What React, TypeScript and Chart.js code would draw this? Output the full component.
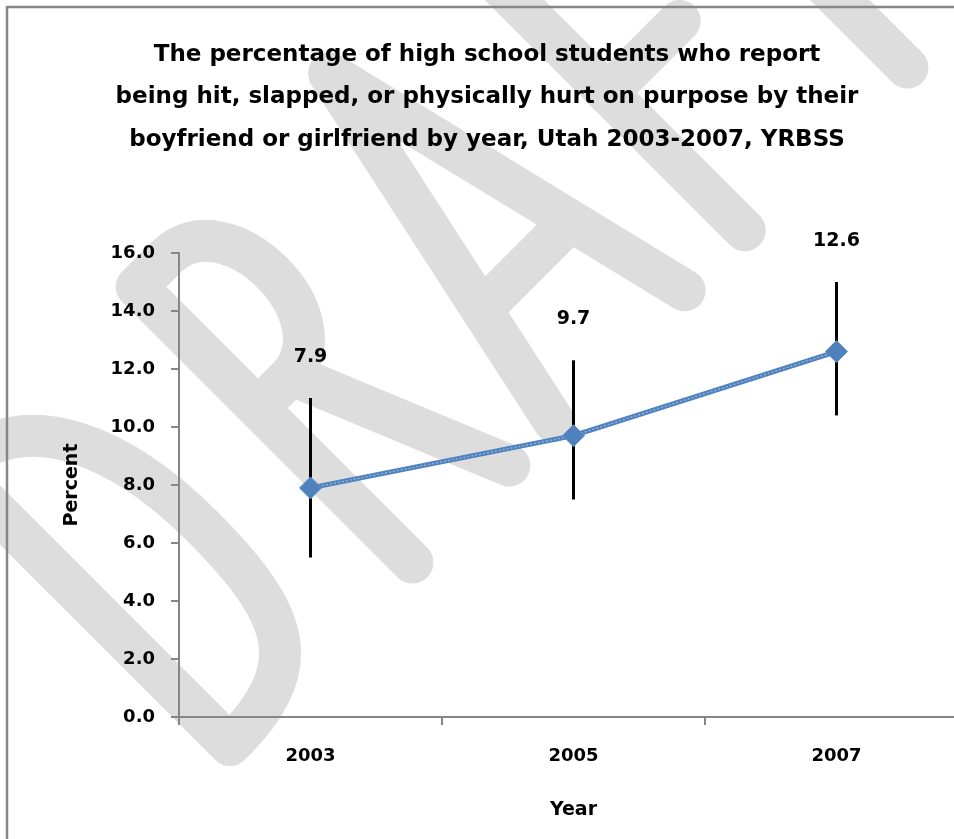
import React, { useEffect, useRef } from "react";
import { Chart, registerables } from "chart.js";

Chart.register(...registerables);

const years = ["2003", "2005", "2007"];
const percent = [7.9, 9.7, 12.6];
const ciLower = [5.5, 7.5, 10.4];
const ciUpper = [11.0, 12.3, 15.0];
const titleLines = [
  "The percentage of high school students who report",
  "being hit, slapped, or physically hurt on purpose by their",
  "boyfriend or girlfriend by year, Utah 2003-2007, YRBSS",
];
const yMin = 0;
const yMax = 16;
const yStep = 2;

const FONT = "'DejaVu Sans', sans-serif";
const AXIS = "#868686";

const backgroundPlugin = {
  id: "bgWatermark",
  beforeDraw(chart: any) {
    const ctx = chart.ctx as CanvasRenderingContext2D;
    const W = chart.width;
    const Hc = chart.height;
    ctx.save();
    ctx.fillStyle = "#ffffff";
    ctx.fillRect(0, 0, W, Hc);

    // DRAFT watermark drawn with single strokes
    ctx.translate(230, 745);
    ctx.rotate(-Math.PI / 4);
    ctx.strokeStyle = "#dddddd";
    ctx.lineWidth = 42;
    ctx.lineCap = "round";
    ctx.lineJoin = "round";
    const H = 390;
    const stroke = (f: () => void) => {
      ctx.beginPath();
      f();
      ctx.stroke();
    };
    // D
    stroke(() => {
      ctx.moveTo(0, 0);
      ctx.lineTo(0, -H);
      ctx.bezierCurveTo(100, -H, 135, -H * 0.72, 135, -H * 0.45);
      ctx.bezierCurveTo(135, -H * 0.12, 110, 0, 0, 0);
    });
    // R
    stroke(() => {
      ctx.moveTo(258, 0);
      ctx.lineTo(258, -H);
      ctx.lineTo(300, -H);
      ctx.bezierCurveTo(385, -H, 385, -H * 0.56, 300, -H * 0.56);
      ctx.lineTo(258, -H * 0.56);
    });
    stroke(() => {
      ctx.moveTo(305, -H * 0.56);
      ctx.lineTo(395, 0);
    });
    // A
    stroke(() => {
      ctx.moveTo(458, 0);
      ctx.lineTo(545, -405);
      ctx.lineTo(643, 0);
    });
    stroke(() => {
      ctx.moveTo(489, -130);
      ctx.lineTo(611, -130);
    });
    // F
    stroke(() => {
      ctx.moveTo(728, 0);
      ctx.lineTo(728, -H);
      ctx.lineTo(850, -H);
    });
    stroke(() => {
      ctx.moveTo(728, -194);
      ctx.lineTo(830, -194);
    });
    // T
    stroke(() => {
      ctx.moveTo(868, -H);
      ctx.lineTo(1048, -H);
    });
    stroke(() => {
      ctx.moveTo(958, -H);
      ctx.lineTo(958, 0);
    });
    ctx.restore();

    // outer frame (top and left edges visible)
    ctx.save();
    ctx.strokeStyle = "#878787";
    ctx.lineWidth = 2.5;
    ctx.beginPath();
    ctx.moveTo(7, Hc + 10);
    ctx.lineTo(7, 7);
    ctx.lineTo(W + 10, 7);
    ctx.stroke();
    ctx.restore();
  },
};

const errorBarPlugin = {
  id: "errorBars",
  beforeDatasetsDraw(chart: any) {
    const ctx = chart.ctx as CanvasRenderingContext2D;
    const xs = chart.scales.x;
    const ys = chart.scales.y;
    ctx.save();
    ctx.strokeStyle = "#000000";
    ctx.lineWidth = 3;
    ctx.lineCap = "butt";
    years.forEach((_, i) => {
      const x = xs.getPixelForValue(i);
      ctx.beginPath();
      ctx.moveTo(x, ys.getPixelForValue(ciLower[i]));
      ctx.lineTo(x, ys.getPixelForValue(ciUpper[i]));
      ctx.stroke();
    });
    ctx.restore();
  },
};

const valueLabelPlugin = {
  id: "valueLabels",
  afterDatasetsDraw(chart: any) {
    const ctx = chart.ctx as CanvasRenderingContext2D;
    const xs = chart.scales.x;
    const ys = chart.scales.y;
    ctx.save();
    ctx.fillStyle = "#000000";
    ctx.font = `bold 19px ${FONT}`;
    ctx.textAlign = "center";
    ctx.textBaseline = "middle";
    percent.forEach((v, i) => {
      const x = xs.getPixelForValue(i);
      const y = ys.getPixelForValue(ciUpper[i]) - 41;
      ctx.fillText(v.toFixed(1), x, y);
    });
    ctx.restore();
  },
};

export default function App() {
  const canvasRef = useRef<HTMLCanvasElement | null>(null);

  useEffect(() => {
    const canvas = canvasRef.current;
    if (!canvas) return;
    const chart = new Chart(canvas, {
      type: "line",
      data: {
        labels: years,
        datasets: [
          {
            data: percent,
            showLine: false,
            pointStyle: "rectRot",
            pointRadius: 11,
            pointBackgroundColor: "#4F81BD",
            pointBorderColor: "#5F8FCB",
            pointBorderWidth: 1,
            clip: false as any,
          },
          {
            data: percent,
            borderColor: "#8FB0DA",
            borderWidth: 1.5,
            borderDash: [2, 2],
            pointRadius: 0,
            tension: 0,
            clip: false as any,
          },
          {
            data: percent,
            borderColor: "#4F81BD",
            borderWidth: 5,
            pointRadius: 0,
            tension: 0,
            clip: false as any,
          },
        ],
      },
      options: {
        responsive: false,
        animation: false,
        layout: { padding: { left: 6, right: 32, top: 0, bottom: 0 } },
        plugins: {
          legend: { display: false },
          tooltip: { enabled: false },
          title: {
            display: true,
            text: titleLines,
            color: "#000000",
            font: { family: FONT, size: 23, weight: "bold", lineHeight: 42.5 / 23 },
            padding: { top: 33.75, bottom: 91.75 },
          },
        },
        scales: {
          x: {
            type: "category",
            offset: true,
            grid: {
              offset: true,
              drawOnChartArea: false,
              drawTicks: true,
              tickLength: 8,
              color: AXIS,
              lineWidth: 2,
            },
            border: { color: AXIS, width: 2 },
            ticks: {
              color: "#000000",
              font: { family: FONT, size: 18, weight: "bold" },
              padding: 21,
            },
            title: {
              display: true,
              text: "Year",
              color: "#000000",
              font: { family: FONT, size: 19, weight: "bold" },
              padding: { top: 0, bottom: 17.6 },
            },
            afterFit: (s: any) => {
              s.height = 122;
            },
          },
          y: {
            min: yMin,
            max: yMax,
            ticks: {
              stepSize: yStep,
              color: "#000000",
              font: { family: FONT, size: 18, weight: "bold" },
              padding: 16,
              callback: (v: any) => Number(v).toFixed(1),
            },
            grid: {
              drawOnChartArea: false,
              drawTicks: true,
              tickLength: 8,
              color: AXIS,
              lineWidth: 2,
            },
            border: { color: AXIS, width: 2 },
            title: {
              display: true,
              text: "Percent",
              color: "#000000",
              font: { family: FONT, size: 19, weight: "bold" },
              padding: { top: 54.6, bottom: 0 },
            },
            afterFit: (s: any) => {
              s.width = 173;
            },
          },
        },
      },
      plugins: [backgroundPlugin, errorBarPlugin, valueLabelPlugin],
    });
    return () => chart.destroy();
  }, []);

  return (
    <div
      style={{
        position: "absolute",
        left: 0,
        top: 0,
        width: 954,
        height: 839,
        overflow: "hidden",
        background: "#ffffff",
      }}
    >
      <canvas ref={canvasRef} width={1000} height={839} style={{ width: 1000, height: 839, display: "block" }} />
    </div>
  );
}
